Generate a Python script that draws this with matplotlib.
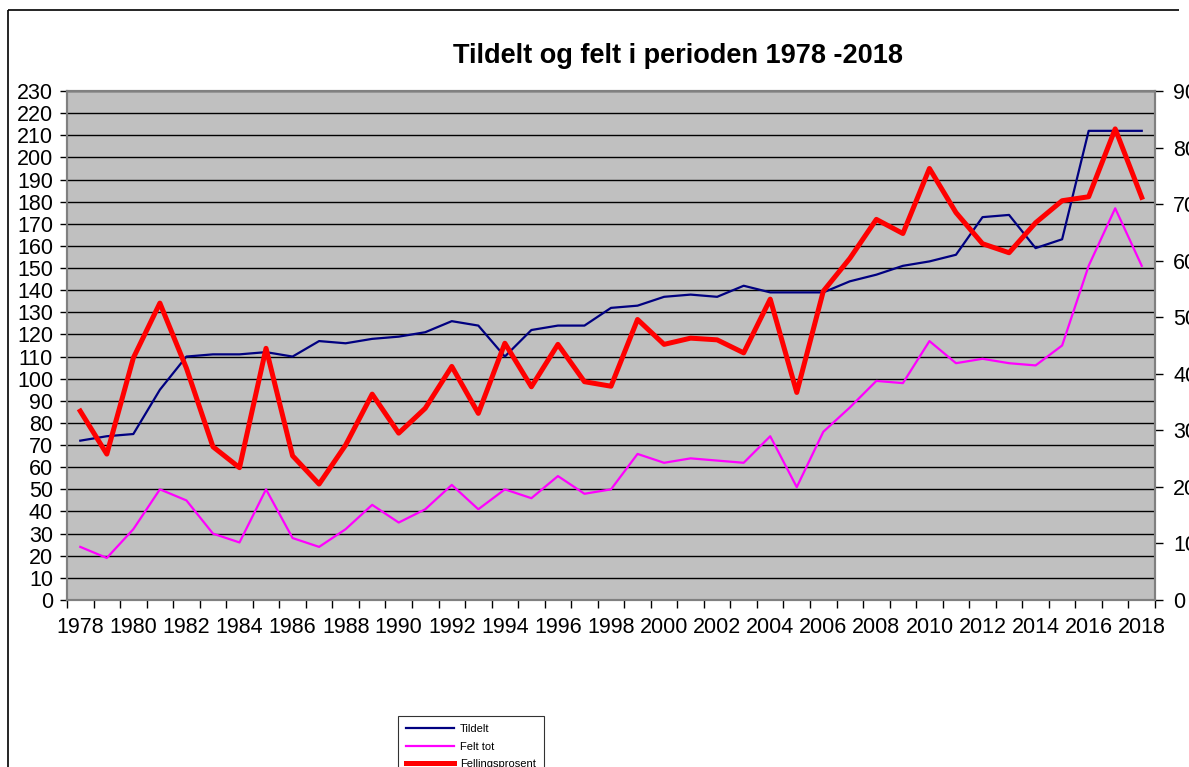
import matplotlib.pyplot as plt
from matplotlib.lines import Line2D

years = list(range(1978, 2019))

tildelt = [72, 74, 75, 95, 110, 111, 111, 112, 110, 117,
           116, 118, 119, 121, 126, 124, 110, 122, 124, 124,
           132, 133, 137, 138, 137, 142, 139, 139, 139, 144,
           147, 151, 153, 156, 173, 174, 159, 163, 212, 212, 212]

felt_tot = [24, 19, 32, 50, 45, 30, 26, 50, 28, 24,
            32, 43, 35, 41, 52, 41, 50, 46, 56, 48,
            50, 66, 62, 64, 63, 62, 74, 51, 76, 87,
            99, 98, 117, 107, 109, 107, 106, 115, 151, 177, 151]

fellingsprosent = [33.4, 25.8, 42.8, 52.5, 41.0, 27.1, 23.4, 44.5, 25.5, 20.5,
                   27.4, 36.4, 29.5, 33.9, 41.3, 33.0, 45.4, 37.7, 45.2, 38.6,
                   37.8, 49.6, 45.2, 46.3, 46.0, 43.7, 53.2, 36.7, 54.6, 60.4,
                   67.3, 64.8, 76.3, 68.5, 63.0, 61.4, 66.7, 70.6, 71.3, 83.3, 71.2]

x = list(range(len(years)))
font = "Liberation Sans"

fig = plt.figure(figsize=(11.89, 7.67), dpi=100)
# outer chart border: only top and left edges are visible in the screenshot
bx, by = 8 / 1189, 1 - 10 / 767
fig.add_artist(Line2D([bx, 1179 / 1189], [by, by], transform=fig.transFigure,
                      color="black", linewidth=1.2, solid_capstyle="butt"))
fig.add_artist(Line2D([bx, bx], [-0.05, by], transform=fig.transFigure,
                      color="black", linewidth=1.2, solid_capstyle="butt"))

ax = fig.add_axes([67 / 1189, 1 - 600 / 767, (1155 - 67) / 1189, 509 / 767])
ax.set_facecolor("#C0C0C0")
ax2 = ax.twinx()

l1, = ax.plot(x, tildelt, color="#000080", linewidth=1.6, label="Tildelt")
l2, = ax.plot(x, felt_tot, color="#FF00FF", linewidth=1.6, label="Felt tot")
l3, = ax2.plot(x, fellingsprosent, color="#FF0000", linewidth=3.6, label="Fellingsprosent")

ax.set_xlim(-0.5, len(years) - 0.5)
ax.set_ylim(0, 230)
ax2.set_ylim(0, 90)

ax.set_yticks(range(0, 231, 10))
ax2.set_yticks(range(0, 91, 10))
ax.grid(axis="y", color="black", linewidth=1.0)
ax.set_axisbelow(True)

ax.set_xticks(x[::2])
ax.set_xticklabels([str(y) for y in years[::2]])
ax.set_xticks([i - 0.5 for i in range(len(years) + 1)], minor=True)
ax.tick_params(axis="x", which="major", length=0, pad=12)
ax.tick_params(axis="x", which="minor", length=6, width=1, direction="out", color="black")
ax.tick_params(axis="y", length=5, width=1, pad=5)
ax2.tick_params(axis="y", length=6, width=1, pad=7)

for lab in ax.get_xticklabels() + ax.get_yticklabels() + ax2.get_yticklabels():
    lab.set_fontfamily(font)
    lab.set_fontsize(15.5)

for a in (ax, ax2):
    for s in a.spines.values():
        s.set_color("#808080")
        s.set_linewidth(1.5)

fig.text(678 / 1189, 1 - 63 / 767, "Tildelt og felt i perioden 1978 -2018",
         ha="center", va="baseline", fontsize=19.5, fontweight="bold",
         family=font)

leg = fig.legend(handles=[l1, l2, l3], loc="upper left",
                 bbox_to_anchor=(398 / 1189, 1 - 716 / 767),
                 prop={"family": font, "size": 8},
                 frameon=True, fancybox=False, edgecolor="black",
                 handlelength=4.3, handletextpad=0.55,
                 borderpad=0.75, labelspacing=0.65, borderaxespad=0)
leg.get_frame().set_linewidth(0.8)

fig.savefig("out.png", dpi=100)
